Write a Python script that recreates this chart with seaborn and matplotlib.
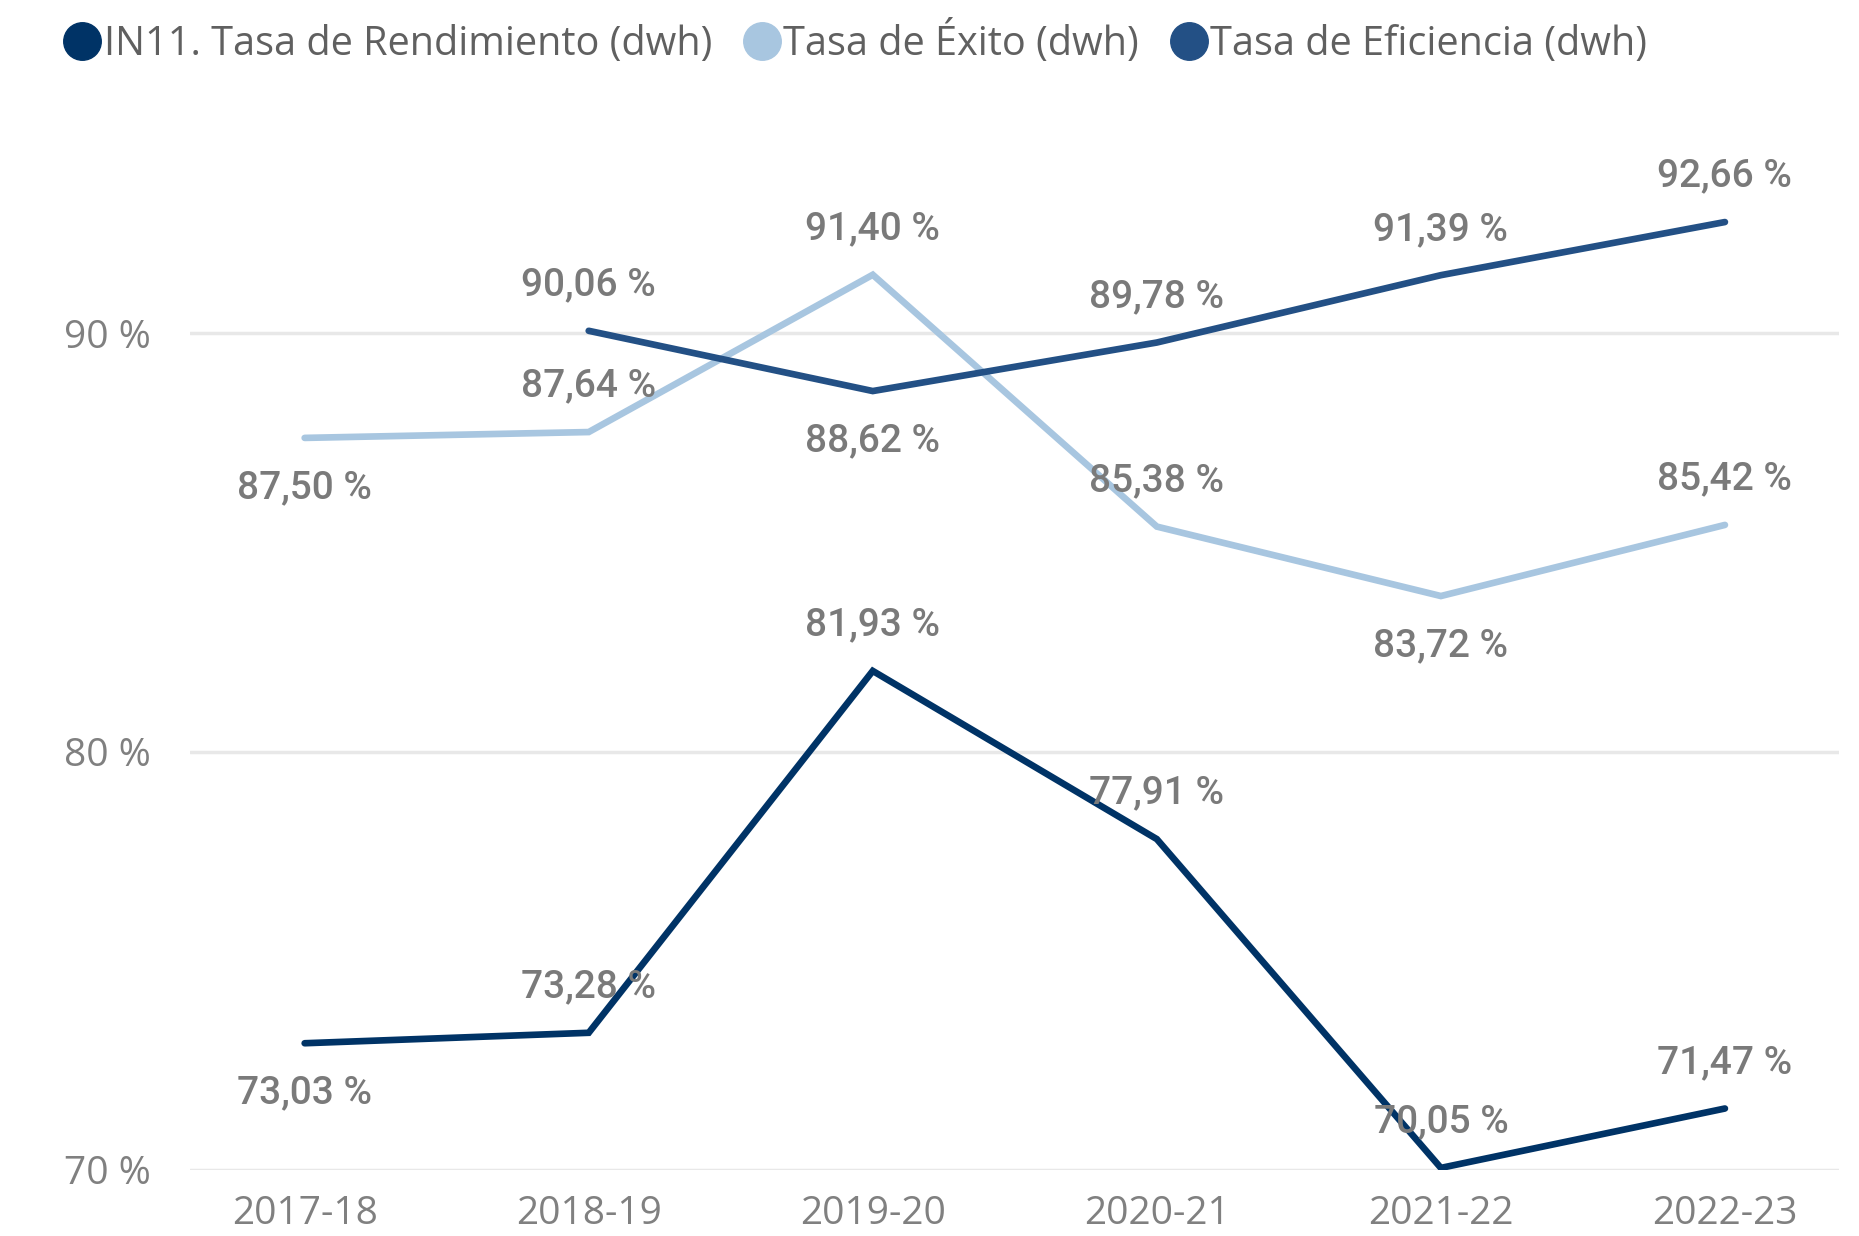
import numpy as np
import pandas as pd
import matplotlib.pyplot as plt
import seaborn as sns

# Data
years = ['2017-18', '2018-19', '2019-20', '2020-21', '2021-22', '2022-23']
rendimiento = [73.03, 73.28, 81.93, 77.91, 70.05, 71.47]
exito = [87.50, 87.64, 91.40, 85.38, 83.72, 85.42]
eficiencia = [np.nan, 90.06, 88.62, 89.78, 91.39, 92.66]

# label placement: +1 above the point, -1 below
pos_rend = [-1, 1, 1, 1, 1, 1]
pos_exito = [-1, 1, 1, 1, -1, 1]
pos_efic = [0, 1, -1, 1, 1, 1]

names = ['IN11. Tasa de Rendimiento (dwh)', 'Tasa de Éxito (dwh)', 'Tasa de Eficiencia (dwh)']
colors = ['#003366', '#A8C6E0', '#235085']

df = pd.DataFrame({
    'x': np.tile(np.arange(len(years)), 3),
    'valor': rendimiento + exito + eficiencia,
    'serie': np.repeat(names, len(years)),
})

sns.set_theme(style='white')
plt.rcParams['font.family'] = ['Open Sans', 'DejaVu Sans']

fig = plt.figure(figsize=(18.59, 12.36), dpi=100)
ax = fig.add_axes([0.102, 0.0534, 0.887, 0.88])

sns.lineplot(data=df, x='x', y='valor', hue='serie', hue_order=names,
             palette=colors, linewidth=4.8, ax=ax, legend=False,
             solid_capstyle='round', solid_joinstyle='miter')

# data labels
for vals, pos in [(rendimiento, pos_rend), (exito, pos_exito), (eficiencia, pos_efic)]:
    for i, (v, p) in enumerate(zip(vals, pos)):
        if np.isnan(v):
            continue
        off = 33 if p > 0 else 36
        ax.annotate(f'{v:.2f} %'.replace('.', ','), (i, v),
                    xytext=(0, off * p), textcoords='offset points',
                    ha='center', va='center', fontsize=28, color='#7a7a7a',
                    family=['Roboto', 'DejaVu Sans'], fontweight='medium', zorder=5)

ax.set_xlim(-0.405, 5.40)
ax.set_ylim(70, 96)
ax.set_yticks([70, 80, 90])
ax.set_yticklabels(['70 %', '80 %', '90 %'])
ax.set_xticks(range(len(years)))
ax.set_xticklabels(years)
ax.tick_params(axis='both', labelsize=28, labelcolor='#808080', length=0)
ax.tick_params(axis='y', pad=28)
ax.tick_params(axis='x', pad=18)
ax.set_xlabel('')
ax.set_ylabel('')
for s in ax.spines.values():
    s.set_visible(False)
ax.grid(axis='y', color='#e8e8e8', linewidth=2.5)
ax.set_axisbelow(True)

# legend with round markers
handles = [plt.Line2D([], [], marker='o', linestyle='', markersize=27,
                      markerfacecolor=c, markeredgecolor=c) for c in colors]
fig.legend(handles, names, loc='upper left', bbox_to_anchor=(0.010, 1.012),
           ncol=3, frameon=False, fontsize=28.5, handletextpad=-0.15,
           columnspacing=0.55, labelcolor='#606060', handlelength=1.4)

fig.savefig('out.png', dpi=100)
